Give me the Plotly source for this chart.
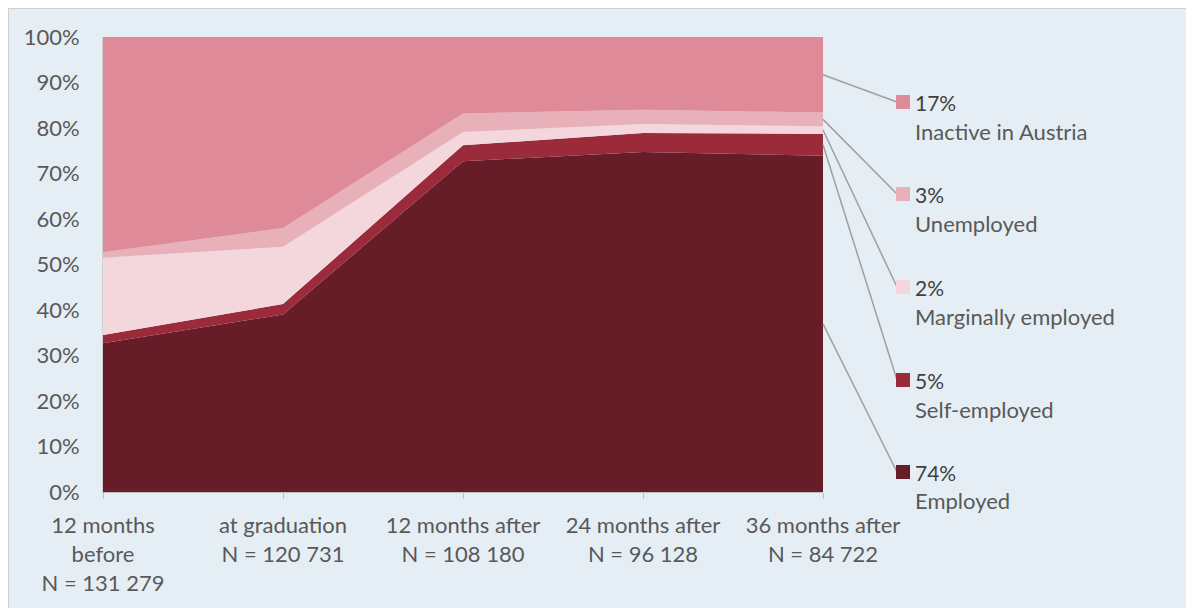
import plotly.graph_objects as go

categories = ["12 months<br>before<br>N = 131 279", "at graduation<br>N = 120 731",
              "12 months after<br>N = 108 180", "24 months after<br>N = 96 128",
              "36 months after<br>N = 84 722"]
employed = [32.7, 39.0, 72.7, 74.7, 73.9]
self_employed = [1.8, 2.3, 3.5, 4.2, 4.8]
marginal = [17.0, 12.6, 2.9, 2.0, 1.7]
unemployed = [1.2, 4.1, 4.1, 3.1, 3.0]
inactive = [47.3, 42.0, 16.8, 16.0, 16.6]

series_names = ["Employed", "Self-employed", "Marginally employed", "Unemployed", "Inactive in Austria"]
series_vals = [employed, self_employed, marginal, unemployed, inactive]
legend_pct = ["74%", "5%", "2%", "3%", "17%"]
colors = ["#661D28", "#9B2B3B", "#F3D7DD", "#E8B1BA", "#DE8A98"]

BG = "#E5EEF4"
TXT = "#595959"
FONT = "Lato"

fig = go.Figure()
idx = list(range(len(categories)))
for name, vals, col in zip(series_names, series_vals, colors):
    fig.add_trace(go.Scatter(x=idx, y=vals, name=name, stackgroup="one", mode="lines",
                             line=dict(width=0, color=col), fillcolor=col, showlegend=False,
                             hoverinfo="skip"))

OX, OY = 8, 8  # page offset of the figure
W, H = 1194 - OX, 608 - OY
L, R, T, B = 103 - OX, 823 - OX, 37 - OY, 492 - OY
fig.update_layout(
    width=W, height=H,
    margin=dict(l=L, r=W - R, t=T, b=H - B),
    paper_bgcolor=BG, plot_bgcolor=BG,
    font=dict(family=FONT, color=TXT, size=22),
)
fig.update_xaxes(range=[0, len(categories) - 1], tickmode="array", tickvals=idx, ticktext=categories,
                 showgrid=False, zeroline=False, showline=True, linecolor="#BFBFBF", linewidth=1,
                 ticks="outside", ticklen=6, tickcolor="#BFBFBF", ticklabelstandoff=8,
                 tickfont=dict(size=22, color=TXT))
fig.update_yaxes(range=[0, 100], tickvals=list(range(0, 101, 10)),
                 ticktext=[f"{v}%" for v in range(0, 101, 10)],
                 showgrid=False, zeroline=False, showline=True, linecolor="#D0D0D0", linewidth=1,
                 ticks="", ticklabelstandoff=18, tickfont=dict(size=22, color=TXT))


def px2paper_x(px):
    return (px - OX - L) / (R - L)


def px2paper_y(py):
    return (B - (py - OY)) / (B - T)


# outer frame
shapes = [dict(type="rect", xref="paper", yref="paper", layer="below",
               x0=px2paper_x(OX), x1=px2paper_x(OX + W + 5), y0=px2paper_y(OY + H + 5), y1=px2paper_y(OY),
               line=dict(color="#CFCFCF", width=2))]

# legend with leader lines
legend_y = [472, 380, 287, 194, 102]   # pixel centres of markers on the page
annotations = []
cum = 0
for name, vals, col, pct, ly in zip(series_names, series_vals, colors, legend_pct, legend_y):
    last = vals[-1]
    mid = cum + last / 2
    cum += last
    shapes.append(dict(type="line", xref="paper", yref="paper",
                       x0=1.0, y0=mid / 100, x1=px2paper_x(897), y1=px2paper_y(ly),
                       line=dict(color="#A0A0A0", width=1.5)))
    shapes.append(dict(type="rect", xref="paper", yref="paper",
                       x0=px2paper_x(896), x1=px2paper_x(910), y0=px2paper_y(ly + 7), y1=px2paper_y(ly - 7),
                       fillcolor=col, line=dict(width=0)))
    annotations.append(dict(xref="paper", yref="paper", x=px2paper_x(913), y=px2paper_y(ly),
                            text=pct, showarrow=False, xanchor="left", yanchor="middle",
                            font=dict(size=21, color="#404040")))
    annotations.append(dict(xref="paper", yref="paper", x=px2paper_x(913), y=px2paper_y(ly + 29),
                            text=name, showarrow=False, xanchor="left", yanchor="middle",
                            font=dict(size=22, color=TXT)))

fig.update_layout(shapes=shapes, annotations=annotations)
fig.write_html("out.html")
